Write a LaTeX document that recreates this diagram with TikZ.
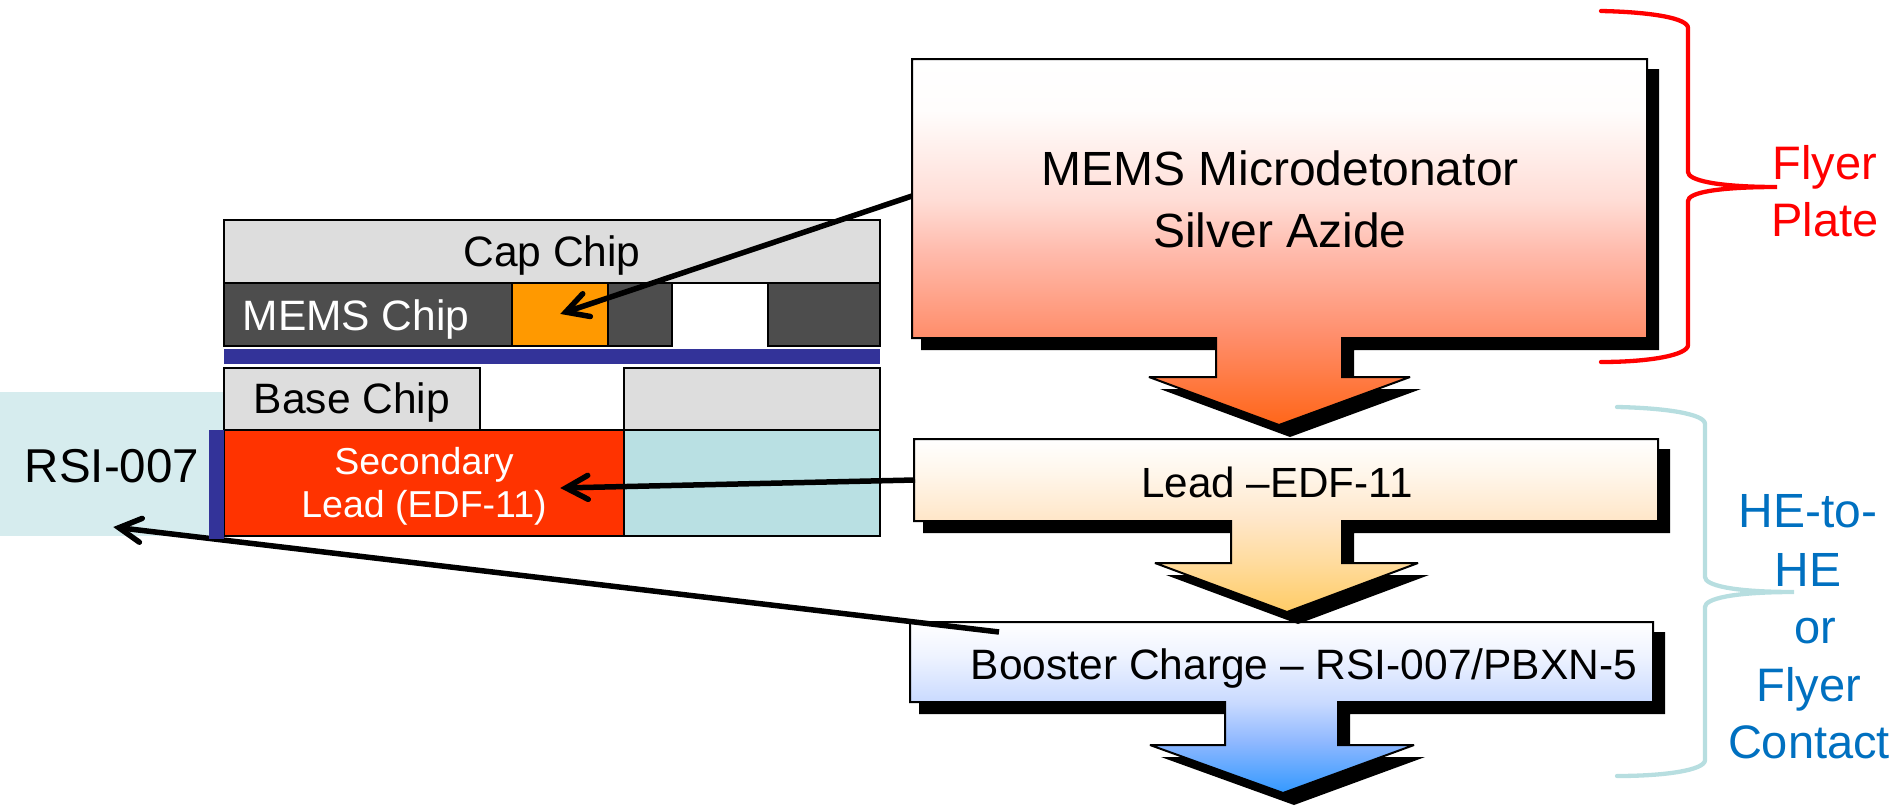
\documentclass[tikz,border=0pt]{standalone}
\usepackage{fontspec}
\setmainfont{Liberation Sans}
\usetikzlibrary{arrows.meta}
\definecolor{chipgray}{HTML}{DDDDDD}
\definecolor{chipdark}{HTML}{4D4D4D}
\definecolor{chiporange}{HTML}{FF9900}
\definecolor{navybar}{HTML}{333399}
\definecolor{leadred}{HTML}{FF3300}
\definecolor{chipcyan}{HTML}{B9E0E3}
\definecolor{palecyan}{HTML}{D6ECEE}
\definecolor{bluetext}{HTML}{0070C0}
\definecolor{bracecyan}{HTML}{B7DEE0}
\definecolor{oa}{HTML}{FFFDFC}
\definecolor{ob}{HTML}{FFDDD6}
\definecolor{oc}{HTML}{FFBCAE}
\definecolor{od}{HTML}{FF8D6A}
\definecolor{oe}{HTML}{FF6619}
\definecolor{aa}{HTML}{FFF6EA}
\definecolor{ab}{HTML}{FFE6C8}
\definecolor{ac}{HTML}{FFDCA0}
\definecolor{ad}{HTML}{FFCC66}
\definecolor{ba}{HTML}{EEF3FF}
\definecolor{bb}{HTML}{C9DAFF}
\definecolor{bc}{HTML}{8FB8FF}
\definecolor{bd}{HTML}{3399FF}
\pgfdeclareverticalshading{orangefade}{100bp}{%
  color(0bp)=(oe); color(25bp)=(oe); color(37bp)=(od); color(49bp)=(oc);
  color(55.75bp)=(ob); color(68bp)=(oa); color(75bp)=(white); color(100bp)=(white)}
\pgfdeclareverticalshading{amberfade}{100bp}{%
  color(0bp)=(ad); color(25bp)=(ad); color(40bp)=(ac); color(51.5bp)=(ab);
  color(65bp)=(aa); color(75bp)=(white); color(100bp)=(white)}
\pgfdeclareverticalshading{bluefade}{100bp}{%
  color(0bp)=(bd); color(25bp)=(bd); color(40bp)=(bc); color(51.5bp)=(bb);
  color(65bp)=(ba); color(75bp)=(white); color(100bp)=(white)}
\pgfdeclarearrow{
  name=Vbarb,
  setup code={
    \pgfarrowssettipend{0pt}
    \pgfarrowssetlineend{-8pt}
    \pgfarrowssetbackend{-29pt}
    \pgfarrowssetvisualbackend{-8pt}
    \pgfarrowshullpoint{0pt}{0pt}
    \pgfarrowshullpoint{-29pt}{13pt}
    \pgfarrowshullpoint{-29pt}{-13pt}
  },
  drawing code={
    \pgfsetroundcap
    \pgfsetmiterjoin
    \pgfsetdash{}{0pt}
    \pgfpathmoveto{\pgfpoint{-28pt}{12pt}}
    \pgfpathlineto{\pgfpoint{-6pt}{0pt}}
    \pgfpathlineto{\pgfpoint{-28pt}{-12pt}}
    \pgfusepathqstroke
  }
}
\newcommand{\fs}[1]{\fontsize{#1}{#1}\selectfont}
\tikzset{
  chip/.style={draw=black,line width=2pt},
  lbl/.style={inner sep=0pt,anchor=base,align=center},
  leader/.style={draw=black,line width=5.5pt,-{Vbarb}},
  blockline/.style={draw=black,line width=2pt,line join=miter,miter limit=3},
  brace/.style={line width=4.3pt,line cap=round,fill=none}
}
% x1 y1 x2 y2 stemL stemR stemY headL headR tipX tipY shading
\newcommand{\block}[9]{%
  \def\xa{#1}\def\ya{#2}\def\xb{#3}\def\yb{#4}\def\sl{#5}\def\sr{#6}\def\sy{#7}\def\hl{#8}\def\hr{#9}\blockrest}
\newcommand{\blockrest}[3]{%
  \path[fill=black] (\xa+9,\ya+10) -- (\xb+12,\ya+10) -- (\xb+12,\yb+12) -- (\sr+12,\yb+12) -- (\sr+12,\sy+12) -- (\hr+11,\sy+12) -- (#1+11,#2+12) -- (\hl+11,\sy+12) -- (\sl+12,\sy+12) -- (\sl+12,\yb+12) -- (\xa+9,\yb+12) -- cycle;
  \path[blockline,shading=#3] (\xa,\ya) -- (\xb,\ya) -- (\xb,\yb) -- (\sr,\yb) -- (\sr,\sy) -- (\hr,\sy) -- (#1,#2) -- (\hl,\sy) -- (\sl,\sy) -- (\sl,\yb) -- (\xa,\yb) -- cycle;
}
\begin{document}
\begin{tikzpicture}[x=1pt,y=-1pt]
\useasboundingbox (0,0) rectangle (1897,806);
% left stack
\fill[palecyan] (0,392) rectangle (224,536);
\path[chip,fill=chipgray] (224,220) rectangle (880,283);
\path[chip,fill=chipdark] (224,283) rectangle (672,346);
\path[chip,fill=chipdark] (768,283) rectangle (880,346);
\path[chip,fill=chiporange] (512,283) rectangle (608,346);
\fill[navybar] (224,349) rectangle (880,364);
\path[chip,fill=chipgray] (224,368) rectangle (480,430);
\path[chip,fill=chipgray] (624,368) rectangle (880,430);
\path[chip,fill=leadred] (224,430) rectangle (624,536);
\path[chip,fill=chipcyan] (624,430) rectangle (880,536);
\node[lbl,font=\fs{42.5}] (captxt) at (552,266) {Cap Chip};
\node[lbl,font=\fs{42.5},text=white] (memstxt) at (356,330) {MEMS Chip};
\node[lbl,font=\fs{42.5}] (basetxt) at (352,413) {Base Chip};
\node[lbl,font=\fs{37.5},text=white] (sectxt) at (424,474) {Secondary};
\node[lbl,font=\fs{37.5},text=white] (leadtxt) at (424,517) {Lead (EDF-11)};
\node[lbl,font=\fs{47.5}] (rsitxt) at (112,482) {RSI-007};
% blocks, lowest first
\block{910}{622}{1653}{702}{1225}{1338}{745}{1150}{1414}{1283}{793}{bluefade}
\block{914}{439}{1658}{521}{1231}{1342}{563}{1155}{1418}{1287}{612}{amberfade}
\block{912}{59}{1647}{338}{1216}{1342}{377}{1149}{1410}{1279}{425}{orangefade}
\node[lbl,font=\fs{48}] (micro) at (1280,185) {MEMS Microdetonator};
\node[lbl,font=\fs{48}] (azide) at (1280,247) {Silver Azide};
\node[lbl,font=\fs{42.2}] (leadbox) at (1277,497) {Lead –EDF-11};
\node[lbl,font=\fs{42.5}] (boost) at (1304,679) {Booster Charge – RSI-007/PBXN-5};
% leaders
\coordinate (fromMicro) at (912,196);
\coordinate (toOrange) at (560,314);
\coordinate (fromLead) at (915,480);
\coordinate (toRed) at (560,488);
\coordinate (fromBoost) at (999,632);
\coordinate (toRsi) at (113,527);
\draw[leader] (fromMicro) -- (toOrange);
\draw[leader] (fromLead) -- (toRed);
\draw[leader] (fromBoost) -- (toRsi);
\fill[navybar] (209,430) rectangle (224,539);
% braces
\draw[brace,red] (1601,11) .. controls (1650,12) and (1688,18) .. (1688,28) -- (1688,172) .. controls (1688,180) and (1715,187) .. (1777,187) .. controls (1715,187) and (1688,193) .. (1688,201) -- (1688,345) .. controls (1688,355) and (1650,362) .. (1601,362);
\draw[brace,bracecyan] (1617,407) .. controls (1666,408) and (1705,414) .. (1705,424) -- (1705,577) .. controls (1705,585) and (1731,592) .. (1794,592) .. controls (1731,592) and (1705,599) .. (1705,607) -- (1705,760) .. controls (1705,770) and (1666,776) .. (1617,776);
% brace labels
\node[lbl,font=\fs{47},text=red] (flyer) at (1825,179) {Flyer};
\node[lbl,font=\fs{47},text=red] (plate) at (1825,236) {Plate};
\node[lbl,font=\fs{48},text=bluetext] (he1) at (1808,527) {HE-to-};
\node[lbl,font=\fs{48},text=bluetext] (he2) at (1808,586) {HE};
\node[lbl,font=\fs{47},text=bluetext] (or) at (1815,643) {or};
\node[lbl,font=\fs{47},text=bluetext] (fl) at (1809,701) {Flyer};
\node[lbl,font=\fs{47},text=bluetext] (ct) at (1809,758) {Contact};
\end{tikzpicture}
\end{document}
